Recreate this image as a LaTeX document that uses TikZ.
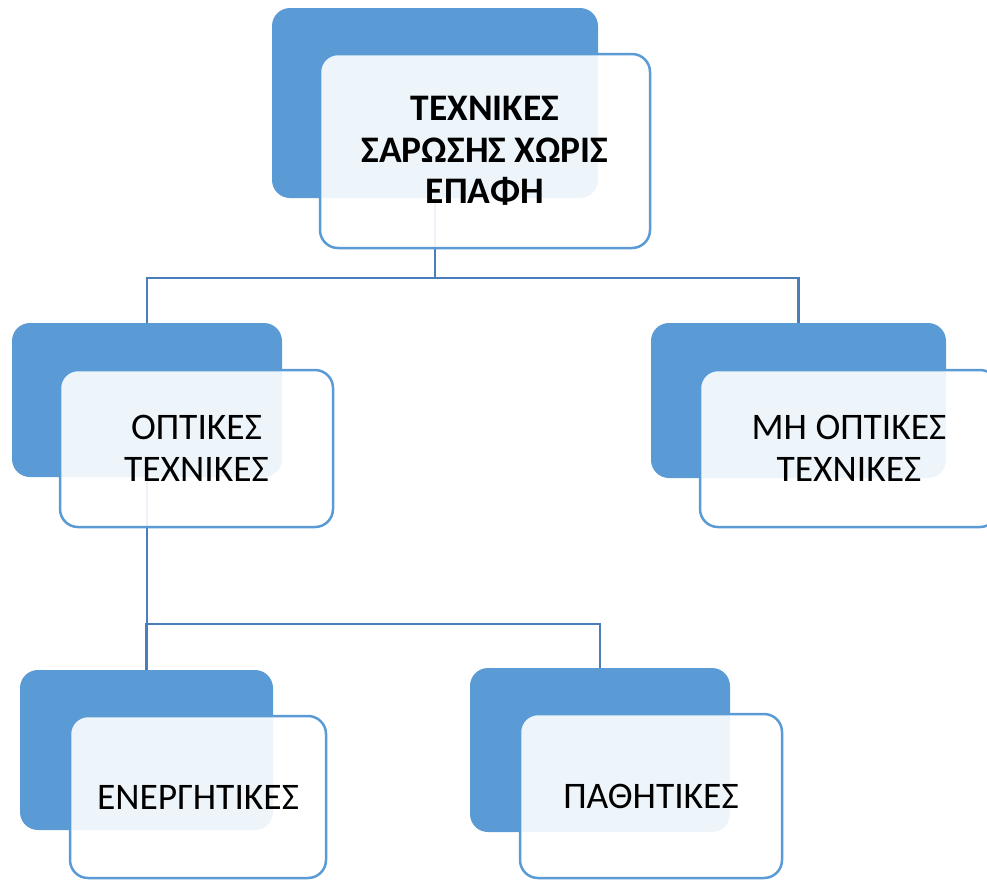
\documentclass[tikz,border=0pt]{standalone}
\usepackage{fontspec}
\setmainfont{Carlito}
\usetikzlibrary{positioning}
\definecolor{boxblue}{HTML}{5B9BD5}
\definecolor{lineblue}{HTML}{4A7EBB}

\begin{document}
\begin{tikzpicture}[x=1pt,y=-1pt,
    back/.style={fill=boxblue,rounded corners=18pt,inner sep=0pt,outer sep=0pt,anchor=north west},
    front/.style={draw=boxblue,line width=2.5pt,fill=white,fill opacity=0.9,text opacity=1,
        rounded corners=18pt,inner sep=0pt,outer sep=0pt,align=center,
        font=\fontsize{37.5}{41.5}\selectfont},
    link/.style={draw=lineblue,line width=2.8pt}]

    \useasboundingbox (0,0) rectangle (987,879);

    % back boxes
    \node[back,minimum width=326pt,minimum height=190pt] (topb) at (272,8) {};
    \node[back,minimum width=270pt,minimum height=154pt] (optb) at (12,323) {};
    \node[back,minimum width=295pt,minimum height=155pt] (mhb) at (651,323) {};
    \node[back,minimum width=253pt,minimum height=160pt] (enb) at (20,670) {};
    \node[back,minimum width=260pt,minimum height=164pt] (pab) at (470,668) {};

    % links
    \draw[link] (topb.south) -- ++(0,80) coordinate (bus1);
    \draw[link] (optb.north) |- (bus1) -| (mhb.north);
    \draw[link] (optb.south) -- ++(0,147) coordinate (bus2);
    \draw[link] (enb.north) |- (bus2) -| (pab.north);

    % front boxes
    \node[front,minimum width=330pt,minimum height=194pt,below right=46pt and 48pt of topb.north west] (topf)
        {\bfseries ΤΕΧΝΙΚΕΣ\\\bfseries ΣΑΡΩΣΗΣ ΧΩΡΙΣ\\\bfseries ΕΠΑΦΗ};
    \node[front,minimum width=273pt,minimum height=157pt,below right=47pt and 48pt of optb.north west] (optf)
        {ΟΠΤΙΚΕΣ\\ΤΕΧΝΙΚΕΣ};
    \node[front,minimum width=298pt,minimum height=157pt,below right=47pt and 49pt of mhb.north west] (mhf)
        {ΜΗ ΟΠΤΙΚΕΣ\\ΤΕΧΝΙΚΕΣ};
    \node[front,minimum width=256pt,minimum height=162pt,below right=46pt and 50pt of enb.north west] (enf)
        {ΕΝΕΡΓΗΤΙΚΕΣ};
    \node[front,minimum width=262pt,minimum height=164pt,below right=46pt and 50pt of pab.north west] (paf)
        {ΠΑΘΗΤΙΚΕΣ};
\end{tikzpicture}
\end{document}
